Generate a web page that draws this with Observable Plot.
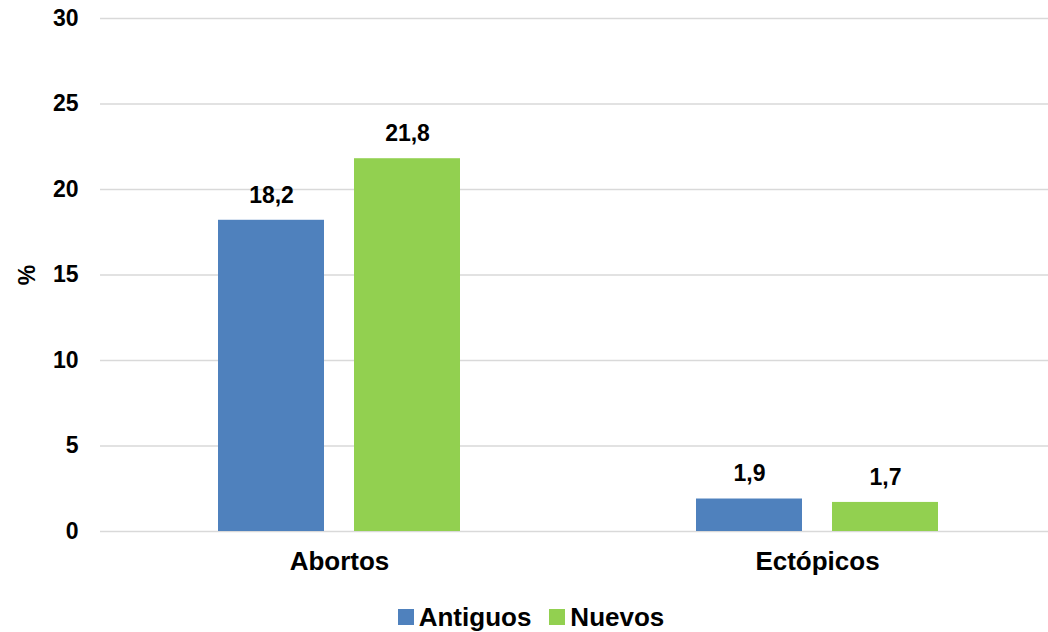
<!DOCTYPE html>
<html>
<head>
<meta charset="utf-8">
<script src="https://cdn.jsdelivr.net/npm/d3@7"></script>
<script src="https://cdn.jsdelivr.net/npm/@observablehq/plot@0.6"></script>
<style>
  html, body { margin: 0; padding: 0; background: #fff; overflow: hidden; }
  #wrap { width: 1048px; overflow: hidden; font-family: "Liberation Sans", Arial, sans-serif; }
  #chart svg { max-width: none !important; display: block; }
  #legend { display: flex; justify-content: center; align-items: center; gap: 18px; height: 42px;
            font-weight: bold; font-size: 26px; color: #000; padding-left: 14px; margin-top: 6px; }
  .item { display: flex; align-items: center; gap: 5px; }
  .sw { width: 16px; height: 16px; display: inline-block; }
</style>
</head>
<body>
<div id="wrap"><div id="chart"></div><div id="legend"></div></div>
<script>
const categories = ["Abortos", "Ectópicos"];
const series = ["Antiguos", "Nuevos"];
const antiguos = [18.2, 1.9];
const nuevos = [21.8, 1.7];
const colors = ["#4f81bd", "#92d050"];
const yTicks = [0, 5, 10, 15, 20, 25, 30];

const data = [];
categories.forEach((c, i) => {
  data.push({category: c, serie: series[0], value: antiguos[i]});
  data.push({category: c, serie: series[1], value: nuevos[i]});
});
const fmt = v => v.toFixed(1).replace(".", ",");

const chart = Plot.plot({
  width: 1056,
  height: 590,
  marginTop: 18,
  marginBottom: 59,
  marginLeft: 100,
  marginRight: 0,
  style: {fontFamily: "'Liberation Sans', Arial, sans-serif", fontWeight: "bold", color: "#000", background: "#fff", maxWidth: "none"},
  fx: {domain: categories, padding: 0, label: null},
  x: {domain: series, paddingInner: 0.2206, paddingOuter: 0.855, axis: null},
  y: {domain: [0, 30], ticks: yTicks, label: "%"},
  color: {domain: series, range: colors},
  marks: [
    Plot.ruleY(yTicks, {stroke: "#d9d9d9", strokeWidth: 1.5}),
    Plot.barY(data, {fx: "category", x: "serie", y: "value", fill: "serie"}),
    Plot.text(data, {fx: "category", x: "serie", y: "value", text: d => fmt(d.value),
      dy: -25, lineAnchor: "middle", fontSize: 23, fontWeight: "bold", fill: "#000"}),
    Plot.axisY({ticks: yTicks, tickSize: 0, tickPadding: 22, fontSize: 23, label: "%",
      labelAnchor: "center", labelArrow: "none", labelOffset: 82, tickFormat: d => String(d)}),
    Plot.axisFx({anchor: "bottom", tickSize: 0, tickPadding: 20, fontSize: 26, label: null})
  ]
});
chart.querySelectorAll("text").forEach(t => t.setAttribute("font-weight", "bold"));
document.getElementById("chart").appendChild(chart);

const lg = document.getElementById("legend");
series.forEach((s, i) => {
  const it = document.createElement("span");
  it.className = "item";
  const sw = document.createElement("span");
  sw.className = "sw";
  sw.style.background = colors[i];
  it.appendChild(sw);
  it.appendChild(document.createTextNode(s));
  lg.appendChild(it);
});
</script>
</body>
</html>
